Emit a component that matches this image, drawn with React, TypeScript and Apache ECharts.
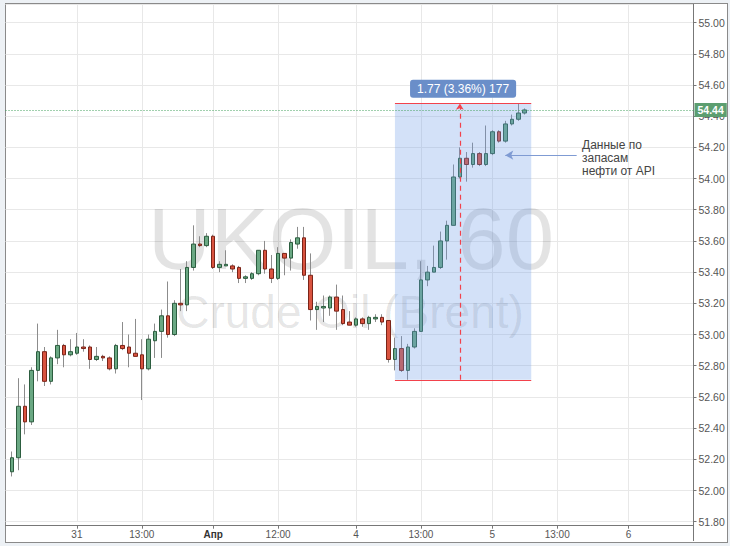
import { useEffect, useRef } from "react";
import * as echarts from "echarts";

// UKOIL hourly candles (left to right)
const opens = [
  52.12, 52.21, 52.54, 52.44, 52.77, 52.89, 52.7, 52.85, 52.93, 52.87,
  52.88, 52.92, 52.92, 52.84, 52.86, 52.85, 52.78, 52.93, 52.92, 52.88,
  52.87, 52.78, 52.96, 53.02, 53.12, 53.0, 53.2, 53.19, 53.43, 53.58,
  53.57, 53.63, 53.43, 53.44, 53.44, 53.43, 53.36, 53.36, 53.39, 53.54,
  53.42, 53.36, 53.52, 53.49, 53.58, 53.62, 53.38, 53.16, 53.17, 53.17,
  53.24, 53.16, 53.08, 53.06, 53.1, 53.07, 53.1, 53.11, 53.09, 52.84,
  52.91, 52.77, 52.92, 53.02, 53.35, 53.4, 53.43, 53.6, 53.7, 54.01,
  54.13, 54.09, 54.16, 54.09, 54.16, 54.3, 54.24, 54.35, 54.38, 54.42,
];
const closes = [
  52.21, 52.54, 52.44, 52.77, 52.89, 52.7, 52.85, 52.93, 52.87, 52.89,
  52.92, 52.91, 52.84, 52.86, 52.85, 52.78, 52.93, 52.91, 52.88, 52.86,
  52.78, 52.97, 53.02, 53.12, 53.0, 53.2, 53.19, 53.43, 53.58, 53.57,
  53.63, 53.43, 53.45, 53.45, 53.42, 53.36, 53.37, 53.39, 53.54, 53.42,
  53.36, 53.52, 53.49, 53.59, 53.62, 53.38, 53.16, 53.18, 53.18, 53.24,
  53.15, 53.07, 53.06, 53.1, 53.07, 53.11, 53.11, 53.08, 52.84, 52.91,
  52.77, 52.92, 53.02, 53.35, 53.4, 53.43, 53.6, 53.7, 54.01, 54.13,
  54.09, 54.16, 54.09, 54.16, 54.3, 54.24, 54.35, 54.38, 54.42, 54.44,
];
const lows = [
  52.09, 52.13, 52.36, 52.42, 52.7, 52.67, 52.68, 52.81, 52.79, 52.86,
  52.87, 52.89, 52.78, 52.83, 52.83, 52.77, 52.75, 52.9, 52.79, 52.86,
  52.58, 52.77, 52.85, 52.85, 52.98, 52.99, 53.15, 53.15, 53.41, 53.56,
  53.56, 53.42, 53.4, 53.44, 53.4, 53.33, 53.33, 53.35, 53.38, 53.39,
  53.33, 53.35, 53.38, 53.41, 53.55, 53.35, 53.09, 53.03, 53.08, 53.12,
  53.03, 53.06, 53.06, 53.05, 53.05, 53.03, 53.08, 53.06, 52.82, 52.77,
  52.76, 52.71, 52.91, 53.02, 53.31, 53.4, 53.42, 53.48, 53.7, 54.0,
  53.98, 54.07, 54.08, 54.08, 54.15, 54.23, 54.23, 54.34, 54.37, 54.41,
];
const highs = [
  52.25, 52.72, 52.68, 52.79, 53.07, 52.92, 52.86, 53.03, 52.94, 52.97,
  53.01, 52.97, 52.93, 52.92, 52.87, 52.86, 52.94, 53.08, 53.0, 53.1,
  52.97, 53.0, 53.07, 53.16, 53.34, 53.22, 53.42, 53.47, 53.7, 53.63,
  53.65, 53.64, 53.47, 53.54, 53.45, 53.44, 53.38, 53.4, 53.54, 53.6,
  53.51, 53.56, 53.52, 53.61, 53.69, 53.69, 53.52, 53.21, 53.25, 53.25,
  53.32, 53.25, 53.15, 53.11, 53.11, 53.12, 53.13, 53.13, 53.09, 52.98,
  52.99, 52.94, 53.04, 53.47, 53.44, 53.57, 53.66, 53.73, 54.09, 54.2,
  54.17, 54.23, 54.17, 54.34, 54.31, 54.31, 54.37, 54.41, 54.48, 54.45,
];

// x axis: one empty slot before the first candle, free space after the last
const SLOTS = 107;
const tickSlots = [11, 21, 32, 42, 54, 64, 75, 85, 96];
const tickTexts = ["31", "13:00", "Апр", "12:00", "4", "13:00", "5", "13:00", "6"];

// y axis
const yMin = 51.8;
const yMax = 55.119;
const yStep = 0.2;

const lastPrice = 54.44;

// measuring tool
const measureFrom = 60;
const measureTo = 81;
const measureMid = 70;
const measureLow = 52.71;
const measureHigh = 54.48;
const measureText = "1.77 (3.36%) 177";

// note with arrow
const noteText = "Данные по\nзапасам\nнефти от API";
const noteFrom = 88;
const noteTo = 77;
const notePrice = 54.15;

const watermarkTitle = "UKOIL, 60";
const watermarkSub = "Crude Oil (Brent)";

const FONT = "'Liberation Sans', Arial, sans-serif";

export default function App() {
  const ref = useRef<HTMLDivElement>(null);

  useEffect(() => {
    if (!ref.current) return;
    document.body.style.margin = "0";
    const chart = echarts.init(ref.current, undefined, { renderer: "svg" });

    const slotIds = Array.from({ length: SLOTS }, (_, s) => `s${s}`);
    const tickMap = new Map(tickSlots.map((s, k) => [s, tickTexts[k]]));
    const isTick = (index: number) => tickMap.has(index);

    const wickData = slotIds.map((_, s) => {
      const i = s - 1;
      if (i < 0 || i >= opens.length) return "-";
      return [opens[i], closes[i], lows[i], highs[i]];
    });
    const bodyData = slotIds.map((_, s) => {
      const i = s - 1;
      if (i < 0 || i >= opens.length) return "-";
      const o = opens[i];
      const c = closes[i];
      return [o, c, Math.min(o, c), Math.max(o, c)];
    });

    const red = "#f2424c";

    chart.setOption({
      animation: false,
      backgroundColor: "transparent",
      textStyle: { fontFamily: FONT },
      // draw the measuring rectangle over the candles, as in the reference
      markArea: { z: 3 },
      grid: {
        left: 5.5,
        right: 36.5,
        top: 4,
        bottom: 24.3,
        outerBoundsMode: "none",
      },
      xAxis: {
        type: "category",
        data: slotIds,
        boundaryGap: false,
        offset: 4,
        axisLine: { lineStyle: { color: "#777", width: 1 } },
        axisTick: {
          interval: isTick,
          length: 3,
          lineStyle: { color: "#777" },
        },
        axisLabel: {
          interval: isTick,
          margin: 4,
          fontSize: 10,
          color: "#555",
          fontFamily: FONT,
          formatter: (value: string) => {
            const t = tickMap.get(Number(value.slice(1)));
            if (!t) return "";
            return t === "Апр" ? `{b|${t}}` : t;
          },
          rich: {
            b: { fontWeight: "bold", color: "#333", fontSize: 10, fontFamily: FONT },
          },
        },
        splitLine: {
          show: true,
          interval: isTick,
          lineStyle: { color: "#e8e8e8" },
        },
      },
      yAxis: {
        type: "value",
        position: "right",
        min: yMin,
        max: yMax,
        interval: yStep,
        axisLine: { show: false },
        axisTick: { show: true, length: 3, lineStyle: { color: "#777" } },
        axisLabel: {
          margin: 5,
          fontSize: 10.5,
          color: "#555",
          fontFamily: FONT,
          showMaxLabel: false,
          formatter: (v: number) => v.toFixed(2),
        },
        splitLine: { lineStyle: { color: "#e8e8e8" } },
      },
      series: [
        {
          // gray wicks
          type: "candlestick",
          data: wickData,
          barWidth: 1,
          silent: true,
          itemStyle: {
            color: "#8c8c8c",
            color0: "#8c8c8c",
            borderColor: "#8c8c8c",
            borderColor0: "#8c8c8c",
            borderWidth: 1,
          },
        },
        {
          // coloured bodies
          type: "candlestick",
          data: bodyData,
          barWidth: 4,
          silent: true,
          itemStyle: {
            color: "#6aa883",
            color0: "#d9533f",
            borderColor: "#2c5d3f",
            borderColor0: "#7a2418",
            borderWidth: 1,
          },
          markArea: {
            silent: true,
            itemStyle: { color: "rgba(108,155,232,0.3)" },
            data: [
              [
                { coord: [measureFrom, measureLow] },
                { coord: [measureTo, measureHigh] },
              ],
            ],
          },
          markLine: {
            silent: true,
            symbol: "none",
            precision: 2,
            label: { show: false },
            data: [
              {
                yAxis: lastPrice,
                lineStyle: { color: "#43a05d", type: [1, 2], width: 1 },
                label: {
                  show: true,
                  position: "end",
                  distance: 1,
                  formatter: lastPrice.toFixed(2),
                  backgroundColor: "#5c9e70",
                  color: "#fff",
                  fontSize: 10.5,
                  fontWeight: "bold",
                  fontFamily: FONT,
                  padding: [2, 3, 1, 3],
                },
              },
              [
                {
                  coord: [measureFrom, measureHigh],
                  symbol: "none",
                  lineStyle: { color: red, type: "solid", width: 1.2 },
                  label: {
                    show: true,
                    position: "insideMiddleTop",
                    distance: 6,
                    formatter: measureText,
                    backgroundColor: "#6a8ec9",
                    color: "#fff",
                    fontSize: 12,
                    fontFamily: FONT,
                    padding: [3, 7],
                    borderRadius: 3,
                  },
                },
                { coord: [measureTo, measureHigh], symbol: "none" },
              ],
              [
                {
                  coord: [measureFrom, measureLow],
                  symbol: "none",
                  lineStyle: { color: red, type: "solid", width: 1.2 },
                },
                { coord: [measureTo, measureLow], symbol: "none" },
              ],
              [
                {
                  coord: [measureMid, measureLow],
                  symbol: "none",
                  lineStyle: { color: red, type: [5, 4], width: 1.2 },
                },
                { coord: [measureMid, measureHigh], symbol: "arrow", symbolSize: [6, 6] },
              ],
              [
                {
                  coord: [noteFrom, notePrice],
                  symbol: "none",
                  lineStyle: { color: "#7f9bd3", type: "solid", width: 1 },
                },
                { coord: [noteTo, notePrice], symbol: "arrow", symbolSize: [7, 8] },
              ],
            ],
          },
        },
      ],
      graphic: [
        {
          type: "text",
          z: 1,
          silent: true,
          x: 351,
          y: 238,
          style: {
            text: watermarkTitle,
            fontSize: 87,
            fontFamily: FONT,
            fill: "rgba(0,0,0,0.11)",
            align: "center",
            verticalAlign: "middle",
          },
        },
        {
          type: "text",
          z: 1,
          silent: true,
          x: 350,
          y: 312,
          style: {
            text: watermarkSub,
            fontSize: 46,
            fontFamily: FONT,
            fill: "rgba(0,0,0,0.11)",
            align: "center",
            verticalAlign: "middle",
          },
        },
        {
          type: "text",
          z: 5,
          silent: true,
          x: 582,
          y: 138,
          style: {
            text: noteText,
            fontSize: 12,
            lineHeight: 13,
            fontFamily: FONT,
            fill: "#444",
            align: "left",
            verticalAlign: "top",
          },
        },
        {
          type: "line",
          z: 5,
          silent: true,
          shape: { x1: 693.5, y1: 4, x2: 693.5, y2: 541 },
          style: { stroke: "#777", lineWidth: 1 },
        },
      ],
    });

    return () => chart.dispose();
  }, []);

  return (
    <div
      style={{
        position: "absolute",
        left: 0,
        top: 0,
        width: 730,
        height: 546,
        background: "#edf1f5",
        overflow: "hidden",
      }}
    >
      <div
        style={{
          position: "absolute",
          left: 5,
          top: 3,
          width: 721,
          height: 538,
          border: "1px solid #8a8a8a",
          background: "#fff",
        }}
      />
      <div
        ref={ref}
        style={{ position: "absolute", left: 0, top: 0, width: 730, height: 546 }}
      />
    </div>
  );
}
